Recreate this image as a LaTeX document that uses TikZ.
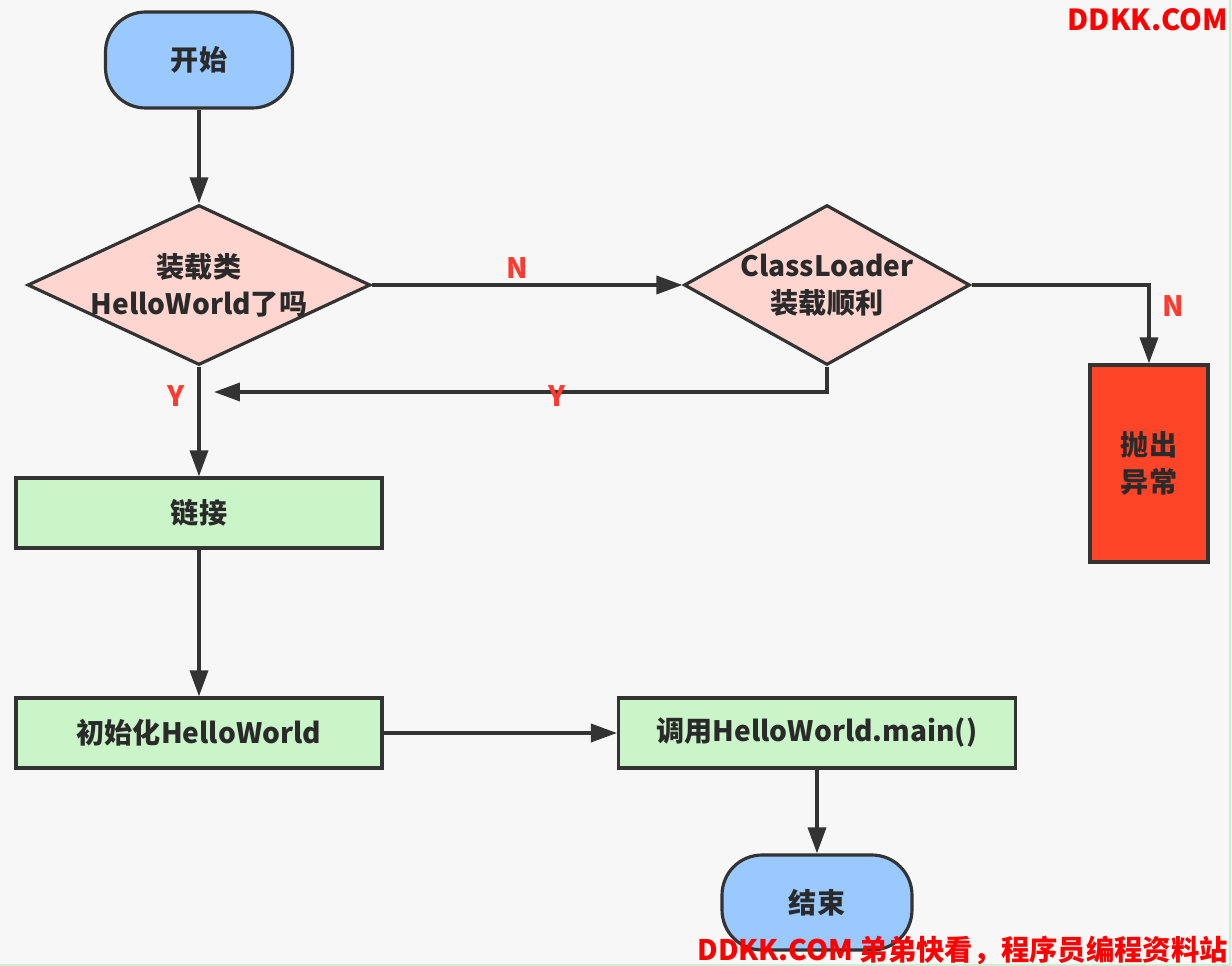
\documentclass[tikz,border=0pt]{standalone}
\usepackage{fontspec}
\setmainfont{Noto Sans CJK SC}
\usetikzlibrary{shapes.geometric,arrows.meta}
\definecolor{bg}{HTML}{F7F7F7}
\definecolor{ln}{HTML}{333333}
\definecolor{tx}{HTML}{2A2A2A}
\definecolor{termfill}{HTML}{99C9FF}
\definecolor{diafill}{HTML}{FFD5D0}
\definecolor{procfill}{HTML}{C9F5C9}
\definecolor{errfill}{HTML}{FF4527}
\definecolor{labred}{HTML}{FF3B30}
\definecolor{wmred}{HTML}{FF0000}
\definecolor{edgegreen}{HTML}{CDEFD0}
\begin{document}
\begin{tikzpicture}[x=0.02cm,y=-0.02cm,
  txt/.style={font=\bfseries\fontsize{16}{21}\selectfont, text=tx, align=center},
  box/.style={txt, draw=ln, line width=1.8pt, inner sep=0pt},
  term/.style={box, fill=termfill, rounded corners=0.8cm},
  proc/.style={box, fill=procfill},
  dia/.style={diamond, draw=ln, fill=diafill, line width=1.8pt, inner sep=0pt},
  conn/.style={draw=ln, line width=2pt, -{Triangle[length=0.52cm,width=0.36cm]}},
  lab/.style={text=labred, font=\bfseries\fontsize{16}{20}\selectfont},
  wm/.style={text=wmred, font=\bfseries\fontsize{16.5}{20}\selectfont, inner sep=0pt}
]
\useasboundingbox (0,0) rectangle (1232,966);
\fill[bg] (0,0) rectangle (1232,966);
\draw[edgegreen, line width=1.2pt] (1230,0) -- (1230,965) -- (0,965);

% nodes
\node[term, minimum width=3.74cm, minimum height=1.92cm] (start) at (199,60) {开始};
\node[dia, minimum width=6.86cm, minimum height=3.2cm] (d1) at (199,285) {};
\node[txt] (d1t) at (199,285) {装载类\\HelloWorld了吗};
\node[dia, minimum width=5.72cm, minimum height=3.2cm] (d2) at (827,285) {};
\node[txt] (d2t) at (827,285) {ClassLoader\\装载顺利};
\node[box, fill=errfill, minimum width=2.36cm, minimum height=3.94cm] (err) at (1149,463.5) {抛出\\异常};
\node[proc, minimum width=7.32cm, minimum height=1.4cm] (link) at (199,513) {链接};
\node[proc, minimum width=7.32cm, minimum height=1.4cm] (init) at (199,733) {初始化HelloWorld};
\node[proc, minimum width=7.94cm, minimum height=1.4cm] (call) at (817,733) {调用HelloWorld.main()};
\node[term, minimum width=3.8cm, minimum height=1.9cm] (end) at (817,902.5) {结束};
\coordinate (ymerge) at (214,392);

% connectors
\draw[conn] (start.south) -- (d1.north);
\draw[conn] (d1.east) -- (d2.west);
\draw[conn] (d2.east) -| (err.north);
\draw[conn] (d2.south) |- (ymerge);
\draw[conn] (d1.south) -- (link.north);
\draw[conn] (link.south) -- (init.north);
\draw[conn] (init.east) -- (call.west);
\draw[conn] (call.south) -- (end.north);

% labels
\node[lab] (n1) at (517,268) {N};
\node[lab] (n2) at (1173,306) {N};
\node[lab] (y1) at (176,396) {Y};
\node[lab] (y2) at (557,396) {Y};

% watermarks
\node[wm, anchor=east] (wm1) at (1228,20) {DDKK.COM};
\node[wm, anchor=east, font=\bfseries\fontsize{16.1}{19}\selectfont] (wm2) at (1228,950) {DDKK.COM 弟弟快看，程序员编程资料站};
\end{tikzpicture}
\end{document}
